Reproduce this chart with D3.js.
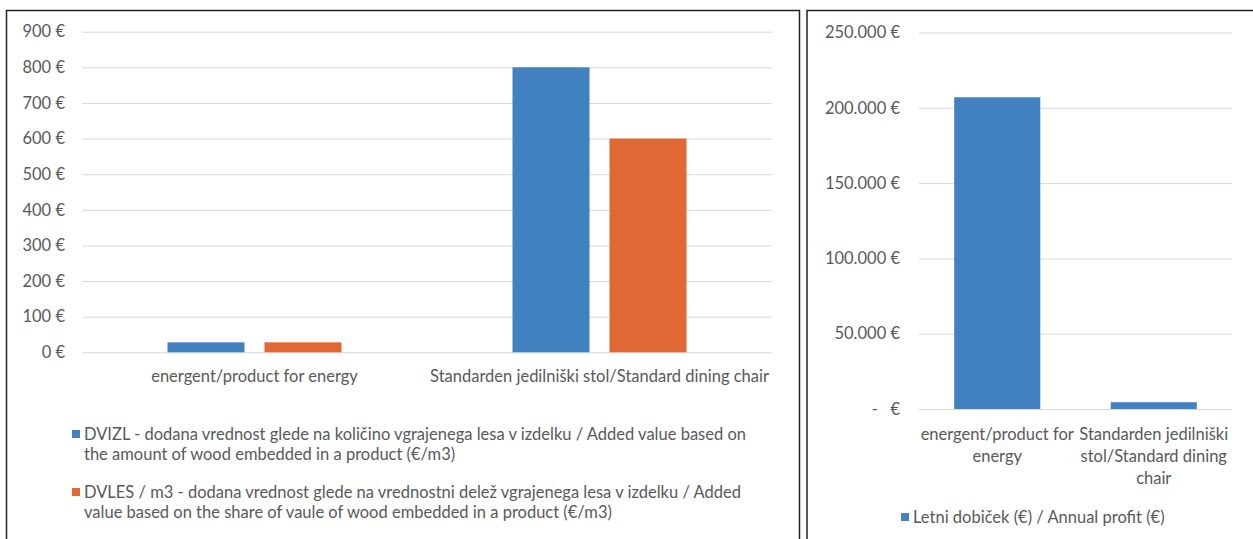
<!DOCTYPE html>
<html>
<head>
<meta charset="utf-8">
<script src="https://cdn.jsdelivr.net/npm/d3@7"></script>
<style>
  body { margin: 0; background: #fff; }
  text { font-family: Lato, "Open Sans", sans-serif; fill: #595959; }
</style>
</head>
<body>
<div id="chart"></div>
<script>
// left chart data
let categories = ["energent/product for energy", "Standarden jedilniški stol/Standard dining chair"]
let seriesNames = ["DVIZL", "DVLES"]
let dvizl = [28, 800]
let dvles = [28, 600]
let leftTicks = [0, 100, 200, 300, 400, 500, 600, 700, 800, 900]
let leftLegend = [
    ["DVIZL - dodana vrednost glede na količino vgrajenega lesa v izdelku / Added value based on",
     "the amount of wood embedded in a product (€/m3)"],
    ["DVLES / m3 - dodana vrednost glede na vrednostni delež vgrajenega lesa v izdelku / Added",
     "value based on the share of vaule of wood embedded in a product (€/m3)"]
]

// right chart data
let profit = [207000, 4500]
let rightTicks = [0, 50000, 100000, 150000, 200000, 250000]
let rightCatLines = [
    ["energent/product for", "energy"],
    ["Standarden jedilniški", "stol/Standard dining", "chair"]
]
let rightLegend = "Letni dobiček (€) / Annual profit (€)"

let colors = ["#4281c0", "#e06834"]
let fs = 16.5

let svgWidth = 1253, svgHeight = 539

let svg = d3.select('#chart')
    .append('svg')
    .attr('width', svgWidth)
    .attr('height', svgHeight)

// panel frames
svg.append("rect")
    .attr("x", 6.5).attr("y", 10.5)
    .attr("width", 793).attr("height", 560)
    .attr("fill", "none").attr("stroke", "#222").attr("stroke-width", 1.5)
svg.append("rect")
    .attr("x", 807).attr("y", 10.5)
    .attr("width", 460).attr("height", 560)
    .attr("fill", "none").attr("stroke", "#222").attr("stroke-width", 1.5)

let euro = d3.formatLocale({decimal: ",", thousands: ".", grouping: [3], currency: ["", " €"]})
let fmtEuro = euro.format("$,.0f")

// ---------- left chart ----------
let left = svg.append("g")

let y = d3.scaleLinear().domain([0, 900]).range([352.3, 31.7])
let x0 = d3.scaleBand().domain(categories).range([82, 772])
let x1 = d3.scaleBand().domain(seriesNames)
    .range([(x0.bandwidth() - 174) / 2, (x0.bandwidth() + 174) / 2])
    .paddingInner(0.206)

left.append("g")
    .attr("transform", "translate(82,0)")
    .call(d3.axisLeft(y).tickValues(leftTicks).tickSize(-690).tickFormat(d => fmtEuro(d)))
    .call(g => g.select(".domain").remove())
    .call(g => g.selectAll(".tick line").attr("stroke", "#d9d9d9"))
    .call(g => g.selectAll(".tick text").attr("x", -17).attr("font-size", fs).style("font-family", "Lato").attr("fill", "#595959"))

let leftData = categories.map((c, i) => ({cat: c, values: [dvizl[i], dvles[i]]}))

left.selectAll(".grp")
    .data(leftData)
    .join("g")
    .attr("transform", d => `translate(${x0(d.cat)},0)`)
    .selectAll("rect")
    .data(d => d.values.map((v, j) => ({key: seriesNames[j], v: v, j: j})))
    .join("rect")
    .attr("x", d => x1(d.key))
    .attr("width", x1.bandwidth())
    .attr("y", d => y(d.v))
    .attr("height", d => y(0) - y(d.v))
    .attr("fill", d => colors[d.j])

left.append("g")
    .attr("transform", "translate(0,352.3)")
    .call(d3.axisBottom(x0).tickSize(0).tickPadding(18))
    .call(g => g.select(".domain").remove())
    .call(g => g.selectAll("text").attr("font-size", fs).style("font-family", "Lato").attr("fill", "#595959"))

// left legend
let lg = left.selectAll(".leg")
    .data(leftLegend)
    .join("g")
    .attr("transform", (d, i) => `translate(72,${434 + i * 58})`)
lg.append("rect")
    .attr("x", 0).attr("y", -4).attr("width", 8).attr("height", 8)
    .attr("fill", (d, i) => colors[i])
lg.selectAll("text")
    .data(d => d)
    .join("text")
    .attr("x", 12)
    .attr("y", (d, i) => i * 20)
    .attr("dy", "0.35em")
    .attr("font-size", fs)
    .text(d => d)

// ---------- right chart ----------
let right = svg.append("g")

let y2 = d3.scaleLinear().domain([0, 250000]).range([409, 32.5])
let x2 = d3.scaleBand().domain(categories).range([919, 1232]).paddingInner(0.45).paddingOuter(0.225)

right.append("g")
    .attr("transform", "translate(919,0)")
    .call(d3.axisLeft(y2).tickValues(rightTicks).tickSize(-313).tickFormat(d => d === 0 ? "-\u00a0\u00a0\u00a0€" : fmtEuro(d)))
    .call(g => g.select(".domain").remove())
    .call(g => g.selectAll(".tick line").attr("stroke", "#d9d9d9"))
    .call(g => g.selectAll(".tick text").attr("x", -19).attr("font-size", fs).style("font-family", "Lato").attr("fill", "#595959"))

right.selectAll(".bar")
    .data(categories.map((c, i) => ({cat: c, v: profit[i]})))
    .join("rect")
    .attr("x", d => x2(d.cat))
    .attr("width", x2.bandwidth())
    .attr("y", d => y2(d.v))
    .attr("height", d => y2(0) - y2(d.v))
    .attr("fill", colors[0])

right.selectAll(".xlab")
    .data(categories.map((c, i) => ({cat: c, lines: rightCatLines[i]})))
    .join("text")
    .attr("text-anchor", "middle")
    .attr("font-size", fs)
    .attr("transform", d => `translate(${x2(d.cat) + x2.bandwidth() / 2},434)`)
    .selectAll("tspan")
    .data(d => d.lines)
    .join("tspan")
    .attr("x", 0)
    .attr("y", (d, i) => i * 22)
    .attr("dy", "0.35em")
    .text(d => d)

let rl = right.append("g").attr("transform", "translate(901,517)")
rl.append("rect")
    .attr("x", 0).attr("y", -4).attr("width", 8).attr("height", 8)
    .attr("fill", colors[0])
rl.append("text")
    .attr("x", 12)
    .attr("dy", "0.35em")
    .attr("font-size", fs)
    .text(rightLegend)
</script>
</body>
</html>
